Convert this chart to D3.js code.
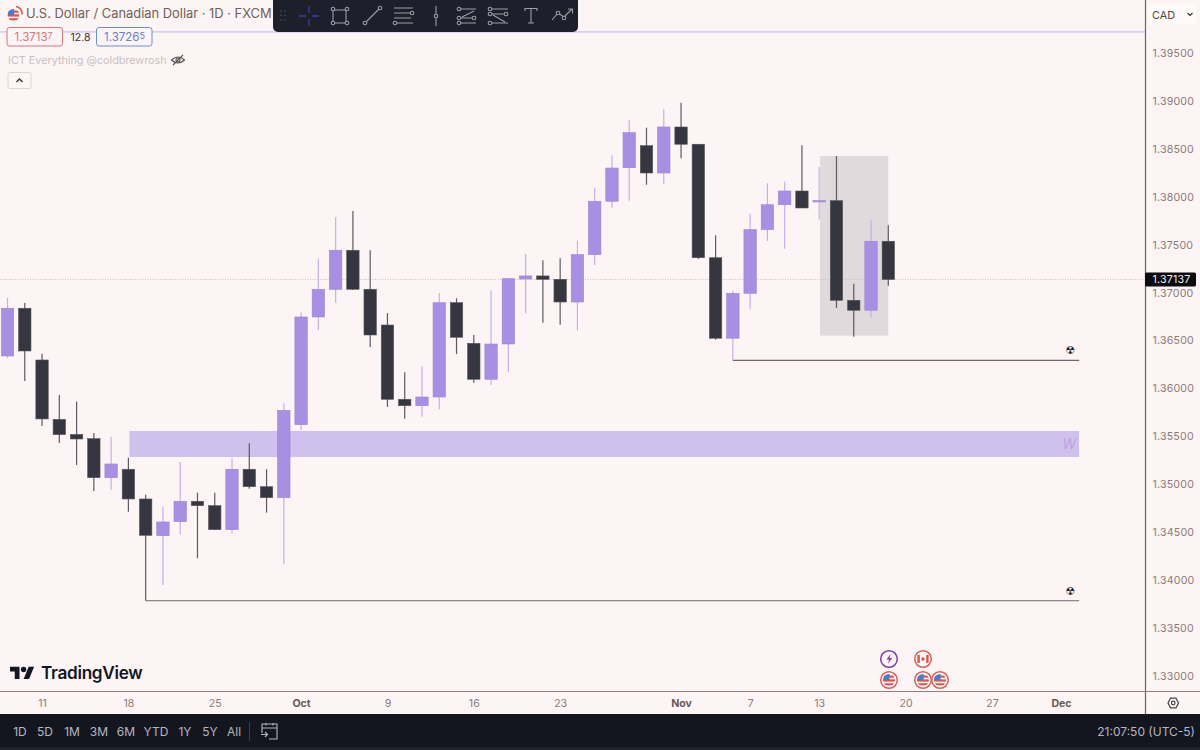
<!DOCTYPE html>
<html><head><meta charset="utf-8">
<script src="https://cdn.jsdelivr.net/npm/d3@7/dist/d3.min.js"></script>
<style>html,body{margin:0;padding:0;background:#fdf5f5;overflow:hidden}svg{display:block}text{font-family:Inter,"Noto Sans",sans-serif}</style>
</head><body><svg id="c" width="1200" height="750"></svg>
<script>
const opens=[1.36339,1.36837,1.36297,1.35678,1.35520,1.35476,1.35069,1.35157,1.34847,1.34464,1.34610,1.34823,1.34777,1.34527,1.35157,1.34975,1.34861,1.35622,1.36746,1.37035,1.37442,1.37035,1.36662,1.35887,1.35820,1.35911,1.36895,1.36471,1.36096,1.36464,1.37142,1.37174,1.37139,1.36902,1.37396,1.37953,1.38303,1.38533,1.38248,1.38728,1.38548,1.37364,1.36524,1.36993,1.37657,1.37917,1.38060,1.37946,1.37959,1.36920,1.36816,1.37536];
const highs=[1.36944,1.36892,1.36363,1.35932,1.35862,1.35536,1.35497,1.35278,1.34892,1.34767,1.35233,1.34913,1.34913,1.35272,1.35428,1.35157,1.35845,1.36795,1.37354,1.37786,1.37852,1.37442,1.36787,1.36169,1.36231,1.36996,1.36941,1.36558,1.37024,1.37153,1.37403,1.37337,1.37358,1.37542,1.38095,1.38433,1.38801,1.38721,1.38916,1.38982,1.38548,1.37598,1.37024,1.37823,1.38141,1.38157,1.38537,1.38311,1.38425,1.37093,1.37761,1.37702];
const lows=[1.36318,1.36078,1.35609,1.35431,1.35202,1.34930,1.34941,1.34714,1.33788,1.33950,1.34479,1.34228,1.34524,1.34489,1.34954,1.34704,1.34166,1.35567,1.36610,1.36895,1.37027,1.36433,1.35807,1.35685,1.35706,1.35783,1.36360,1.36057,1.36036,1.36169,1.36784,1.36686,1.36665,1.36607,1.37288,1.37886,1.37959,1.38126,1.38130,1.38401,1.37351,1.36509,1.36292,1.36826,1.37539,1.37458,1.37883,1.37765,1.36840,1.36540,1.36738,1.37072];
const closes=[1.36837,1.36391,1.35682,1.35518,1.35473,1.35069,1.35212,1.34847,1.34468,1.34607,1.34823,1.34777,1.34527,1.35157,1.34975,1.34861,1.35772,1.36746,1.37035,1.37442,1.37035,1.36558,1.35887,1.35820,1.35911,1.36895,1.36534,1.36096,1.36464,1.37145,1.37174,1.37139,1.36902,1.37396,1.37953,1.38300,1.38669,1.38248,1.38728,1.38548,1.37364,1.36524,1.36993,1.37657,1.37917,1.38060,1.37883,1.37959,1.36920,1.36816,1.37536,1.37137];
const priceTicks=[1.395,1.39,1.385,1.38,1.375,1.37,1.365,1.36,1.355,1.35,1.345,1.34,1.335,1.33];
const timeTickIndex=[2,7,12,17,22,27,32,39,43,47,52,57,61];
const timeTickLabels=["11","18","25","Oct","9","16","23","Nov","7","13","20","27","Dec"];
const boldLabels=["Oct","Nov","Dec"];
const lastPrice=1.37137, dayLow=1.37137, dayHigh=1.37265, spread="12.8";
const upperLevel=1.39725;
const zone={from:7,to:62.05,top:1.35556,bottom:1.35285};
const box={from:47.05,to:51,top:1.38425,bottom:1.36551};
const levels=[{from:8,to:62.05,price:1.33785},{from:42,to:62.05,price:1.36292}];
const rangeButtons=["1D","5D","1M","3M","6M","YTD","1Y","5Y","All"];

const PLOT_R=1145,AXIS_Y=691,BAR_Y=714,BG="#fdf5f5";
const svg=d3.select("#c");
const y=d3.scaleLinear().domain([1.395,1.33]).range([53,676]);
const x=d3.scaleLinear().domain([0,61]).range([7.5,1061]);
const PURPLE="#a98fe2",PURPLE_S="#9b82d6",PURPLE_W="#c3b0ea",DARK="#363640",DARK_W="#5c5a60";
svg.append("rect").attr("width",1200).attr("height",750).attr("fill",BG);
const defs=svg.append("defs");
defs.append("clipPath").attr("id","plot").append("rect").attr("width",PLOT_R).attr("height",AXIS_Y);

// upper horizontal guide
svg.append("line").attr("x1",0).attr("x2",PLOT_R).attr("y1",y(upperLevel)+.5).attr("y2",y(upperLevel)+.5).attr("stroke","#cfbfee").attr("stroke-width",1.2);

// zones
const plot=svg.append("g").attr("clip-path","url(#plot)");
plot.append("rect").attr("x",x(box.from)).attr("width",x(box.to)-x(box.from)).attr("y",y(box.top)).attr("height",y(box.bottom)-y(box.top)).attr("fill","#e0dadc");
plot.append("line").attr("x1",0).attr("x2",PLOT_R).attr("y1",y(lastPrice)).attr("y2",y(lastPrice)).attr("stroke","#cdbfbf").attr("stroke-dasharray","1 1.5");
plot.append("rect").attr("x",x(zone.from)+1).attr("width",x(zone.to)-x(zone.from)-1).attr("y",y(zone.top)).attr("height",y(zone.bottom)-y(zone.top)).attr("fill","#d0c0ec");
plot.append("text").attr("x",x(zone.to)-3).attr("y",(y(zone.top)+y(zone.bottom))/2+5).attr("text-anchor","end").attr("font-size",14).attr("font-style","italic").attr("fill","#b8a4e2").text("W");

// level lines
plot.selectAll(".lv").data(levels).join("line").attr("class","lv")
  .attr("x1",d=>x(d.from)).attr("x2",d=>x(d.to)).attr("y1",d=>y(d.price)).attr("y2",d=>y(d.price))
  .attr("stroke","#6e6468").attr("stroke-width",1.2);
plot.selectAll(".rad").data(levels).join("text").attr("class","rad")
  .attr("x",d=>x(d.to)-9).attr("y",d=>y(d.price)-6).attr("text-anchor","middle")
  .attr("font-size",11).style("font-family","'DejaVu Sans'").attr("fill","#1a1a1f").text("\u2622");

// candles
const candles=closes.map((c,i)=>({i,o:opens[i],h:highs[i],l:lows[i],c}));
const W=12.4;
plot.selectAll(".wick").data(candles).join("line").attr("class","wick")
  .attr("x1",d=>x(d.i)).attr("x2",d=>x(d.i)).attr("y1",d=>y(d.h)).attr("y2",d=>y(d.l))
  .attr("stroke",d=>d.c>=d.o?PURPLE_W:DARK_W).attr("stroke-width",1.2);
plot.selectAll(".body").data(candles).join("rect").attr("class","body")
  .attr("x",d=>x(d.i)-W/2).attr("width",W)
  .attr("y",d=>y(Math.max(d.o,d.c))).attr("height",d=>Math.max(1,Math.abs(y(d.o)-y(d.c))))
  .attr("fill",d=>d.c>=d.o?PURPLE:DARK).attr("stroke",d=>d.c>=d.o?PURPLE_S:"#55545c").attr("stroke-width",.6);

// axis lines
svg.append("line").attr("x1",PLOT_R+.5).attr("x2",PLOT_R+.5).attr("y1",0).attr("y2",BAR_Y).attr("stroke","#6f5f5f").attr("stroke-width",1.2);
svg.append("line").attr("x1",0).attr("x2",1200).attr("y1",AXIS_Y+.5).attr("y2",AXIS_Y+.5).attr("stroke","#8f7f7f").attr("stroke-width",1.2);

// axes
const ya=svg.append("g").attr("transform",`translate(${PLOT_R},0)`).call(d3.axisRight(y).tickValues(priceTicks).tickFormat(d3.format(".5f")).tickSize(0).tickPadding(7.5));
ya.select(".domain").remove();
ya.selectAll("text").attr("fill","#8b7a78").attr("font-size",10.6).style("letter-spacing",".2px").style("font-family","Inter");
const xa=svg.append("g").attr("transform",`translate(0,${AXIS_Y})`).call(d3.axisBottom(x).tickValues(timeTickIndex).tickFormat((d,i)=>timeTickLabels[i]).tickSize(0).tickPadding(8));
xa.select(".domain").remove();
xa.selectAll("text").attr("font-size",10.6).style("font-family","Inter")
  .attr("fill",(d,i)=>boldLabels.includes(timeTickLabels[i])?"#6b5a58":"#8b7a78")
  .attr("font-weight",(d,i)=>boldLabels.includes(timeTickLabels[i])?700:400);

// last price tag
svg.append("rect").attr("x",PLOT_R).attr("y",y(lastPrice)-7).attr("width",51).attr("height",14).attr("rx",1.5).attr("fill","#0c0c10");
svg.append("text").attr("x",PLOT_R+7.5).attr("y",y(lastPrice)+4).attr("fill","#f4f0f0").attr("font-size",10.6).style("letter-spacing",".2px").text(d3.format(".5f")(lastPrice));

// CAD button
svg.append("rect").attr("x",1149).attr("y",4).attr("width",47).attr("height",20).attr("rx",3).attr("fill","#fffafa");
svg.append("text").attr("x",1152).attr("y",18.5).attr("font-size",10.8).attr("fill","#4b4547").text("CAD");
svg.append("path").attr("d","M1187.5 13l2.5 2.5 2.5-2.5").attr("fill","none").attr("stroke","#333").attr("stroke-width",1.2);

// flags
let fid=0;
function usFlag(g,cx,cy,r){
  const id="f"+(fid++);
  defs.append("clipPath").attr("id",id).append("circle").attr("cx",cx).attr("cy",cy).attr("r",r);
  const s=g.append("g").attr("clip-path",`url(#${id})`);
  s.append("rect").attr("x",cx-r).attr("y",cy-r).attr("width",2*r).attr("height",2*r).attr("fill","#f5eeee");
  [-.55,.1,.75].forEach(k=>s.append("rect").attr("x",cx-r).attr("y",cy+k*r-.6*r/3).attr("width",2*r).attr("height",r*.36).attr("fill","#d9534f"));
  s.append("rect").attr("x",cx-r).attr("y",cy-r).attr("width",r*1.1).attr("height",r*1.0).attr("fill","#4f79c9");
}
function ringUS(cx,cy){
  svg.append("circle").attr("cx",cx).attr("cy",cy).attr("r",8.3).attr("fill",BG).attr("stroke","#d9605c").attr("stroke-width",1.5);
  usFlag(svg,cx,cy,6);
}
function ringCA(cx,cy){
  svg.append("circle").attr("cx",cx).attr("cy",cy).attr("r",8.3).attr("fill",BG).attr("stroke","#d9605c").attr("stroke-width",1.5);
  svg.append("path").attr("d",`M${cx-5.6} ${cy-4}v8h2.4v-8zM${cx+3.2} ${cy-4}v8h2.400v-8z`).attr("fill","#d9534f");
  svg.append("circle").attr("cx",cx).attr("cy",cy).attr("r",1.7).attr("fill","#d9534f");
}
ringCA(923,659);ringUS(889,680);ringUS(923,680);ringUS(940,680);
svg.append("circle").attr("cx",889).attr("cy",659).attr("r",8.3).attr("fill",BG).attr("stroke","#7e3fae").attr("stroke-width",1.5);
svg.append("path").attr("d","M890.5 654l-4 5.5h2.6l-1.2 4.3 4.2-5.700h-2.600z").attr("fill","#7e3fae");

// title block
const titleFlag=svg.append("g");
titleFlag.append("path").attr("d","M16 6.500a7 7 0 0 1 6 8").attr("fill","none").attr("stroke","#d9534f").attr("stroke-width",1.5);
usFlag(titleFlag,13.5,15,6);
svg.append("text").attr("x",26).attr("y",18).attr("font-size",12.9).attr("fill","#6f5f5a").text("U.S. Dollar / Canadian Dollar \u00b7 1D \u00b7 FXCM");
svg.append("rect").attr("x",7).attr("y",27.5).attr("width",55.5).attr("height",18.5).attr("rx",2.5).attr("fill",BG).attr("stroke","#d9747a");
const t1=svg.append("text").attr("x",14.5).attr("y",41).attr("font-size",11.5).attr("fill","#d9747a").text(String(dayLow).slice(0,6));
t1.append("tspan").attr("font-size",9).attr("dy",-2).text(String(dayLow).slice(6));
svg.append("text").attr("x",70.5).attr("y",41).attr("font-size",10.5).attr("fill","#333").text(spread);
svg.append("rect").attr("x",96.5).attr("y",27.5).attr("width",55.5).attr("height",18.5).attr("rx",2.5).attr("fill",BG).attr("stroke","#6c8ed8");
const t2=svg.append("text").attr("x",104).attr("y",41).attr("font-size",11.5).attr("fill","#5f80cf").text(String(dayHigh).slice(0,6));
t2.append("tspan").attr("font-size",9).attr("dy",-2).text(String(dayHigh).slice(6));
svg.append("text").attr("x",8).attr("y",64).attr("font-size",10.8).attr("fill","#c8c0c0").text("ICT Everything @coldbrewrosh");
const eye=svg.append("g").attr("fill","none").attr("stroke","#55504f").attr("stroke-width",1.1);
eye.append("path").attr("d","M171.5 60q6.5-6 13 0q-6.5 6-13 0z");
eye.append("circle").attr("cx",178).attr("cy",60).attr("r",2);
eye.append("path").attr("d","M173 65l10-10");
svg.append("rect").attr("x",8).attr("y",72.5).attr("width",23).attr("height",16).attr("rx",2).attr("fill","#fdf6f6").attr("stroke","#ddd5d5");
svg.append("path").attr("d","M16.5 82l3-3 3 3").attr("fill","none").attr("stroke","#333").attr("stroke-width",1.3);

// toolbar
svg.append("rect").attr("x",273).attr("y",-6).attr("width",305).attr("height",38).attr("rx",5).attr("fill","#1d1f2b");
const tb=svg.append("g").attr("fill","none").attr("stroke","#9c9ea6").attr("stroke-width",1.1);
[281,285].forEach(cx=>[11,15.5,20].forEach(cy=>svg.append("circle").attr("cx",cx).attr("cy",cy).attr("r",.7).attr("fill","#5a5c68")));
svg.append("path").attr("d","M299 16h7M312 16h7M309 6v7M309 19v7").attr("stroke","#2f3fa8").attr("stroke-width",1.3);
tb.append("path").attr("d","M333 10h13v13h-13z");
[[333,9],[347,9],[333,23],[347,23]].forEach(p=>tb.append("circle").attr("cx",p[0]).attr("cy",p[1]).attr("r",1.8).attr("fill","#1d1f2b"));
tb.append("path").attr("d","M366 22l13-13");
[[365,23],[380,8]].forEach(p=>tb.append("circle").attr("cx",p[0]).attr("cy",p[1]).attr("r",1.8).attr("fill","#1d1f2b"));
tb.append("path").attr("d","M394 8h19M394 13h17M394 18h17M396 23h17");
[[412,13],[395,23]].forEach(p=>tb.append("circle").attr("cx",p[0]).attr("cy",p[1]).attr("r",1.8).attr("fill","#1d1f2b"));
tb.append("path").attr("d","M436 6v20");
tb.append("circle").attr("cx",436).attr("cy",16).attr("r",1.8).attr("fill","#1d1f2b");
tb.append("path").attr("d","M460 9h16M460 18h16M460 23h16M462 17l12-6");
[[459,9],[459,18],[459,23],[474,18]].forEach(p=>tb.append("circle").attr("cx",p[0]).attr("cy",p[1]).attr("r",1.8).attr("fill","#1d1f2b"));
tb.append("path").attr("d","M492 9h16M492 14h14M492 23h16M493 15l12 7");
[[490,9],[490,14],[490,23],[506,14]].forEach(p=>tb.append("circle").attr("cx",p[0]).attr("cy",p[1]).attr("r",1.8).attr("fill","#1d1f2b"));
tb.append("path").attr("d","M525 11v-2.500h12v2.500M531 8.500v14.500M528 23h6");
tb.append("path").attr("d","M552 20l6-7 6 4 8-8M568 9h4.500v4.500");
[[558,13],[564,18]].forEach(p=>tb.append("circle").attr("cx",p[0]).attr("cy",p[1]).attr("r",1.8).attr("fill","#1d1f2b"));

// logo
const logo=svg.append("g").attr("transform","translate(10,664) scale(.68)").attr("fill","#131722");
logo.append("path").attr("d","M14 22H7V11H0V4h14v18zM28 22h-8l7.500-18h8L28 22z");
logo.append("circle").attr("cx",20).attr("cy",8).attr("r",4);
svg.append("text").attr("x",41).attr("y",679).attr("font-size",17.2).attr("font-weight",600).attr("fill","#131722").style("letter-spacing","-.3px").text("TradingView");

// settings icon
svg.append("path").attr("d","M1168 703l2.500-4.800h5.500l2.500 4.800-2.500 4.800h-5.500z").attr("fill","none").attr("stroke","#444").attr("stroke-width",1.2);
svg.append("circle").attr("cx",1173.2).attr("cy",703).attr("r",1.8).attr("fill","none").attr("stroke","#444").attr("stroke-width",1.2);

// bottom bar
svg.append("rect").attr("x",0).attr("y",BAR_Y).attr("width",1200).attr("height",36).attr("fill","#14161f");
svg.append("rect").attr("x",0).attr("y",747).attr("width",1200).attr("height",3).attr("fill","#20222a");
const btnX=[20,45,72,99,126,156,185,210,234];
svg.selectAll(".rb").data(rangeButtons).join("text").attr("class","rb")
  .attr("x",(d,i)=>btnX[i]).attr("y",735.500).attr("text-anchor","middle").attr("font-size",12).attr("fill","#b4b7c0").text(d=>d);
svg.append("line").attr("x1",249.500).attr("x2",249.500).attr("y1",722).attr("y2",741).attr("stroke","#3c3f4a");
const cal=svg.append("g").attr("fill","none").attr("stroke","#b4b7c0").attr("stroke-width",1.1);
cal.append("path").attr("d","M262 733v-9h15v15h-8M262 728h15M266 723v2.500M273 723v2.500M261 734.500h6M265 732l2.500 2.500-2.500 2.500");
svg.append("text").attr("x",1195).attr("y",735.500).attr("text-anchor","end").attr("font-size",12).attr("fill","#b4b7c0").text("21:07:50 (UTC-5)");
</script></body></html>
